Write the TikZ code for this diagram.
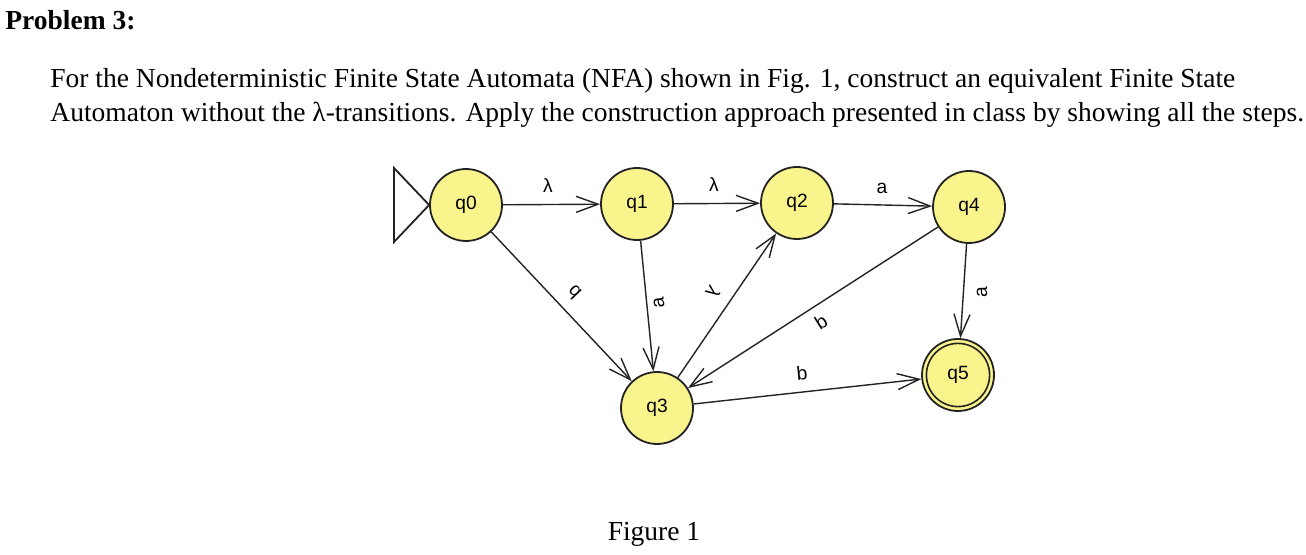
\documentclass[tikz,border=0pt]{standalone}
\usepackage{fontspec}
\setmainfont{Liberation Serif}
\newfontfamily\jf{Liberation Sans}
\usetikzlibrary{arrows.meta}
\definecolor{jyellow}{RGB}{250,244,140}
\definecolor{jline}{RGB}{35,35,35}
\begin{document}
\begin{tikzpicture}[x=0.5pt,y=-0.5pt,
  state/.style={circle,draw=jline,line width=0.9pt,fill=jyellow,minimum size=36pt,inner sep=0pt,font=\jf\fontsize{9.6}{10}\selectfont},
  trans/.style={draw=jline,line width=0.7pt,-{Straight Barb[length=11pt,width=8pt,line width=0.7pt]}},
  lab/.style={inner sep=0pt,font=\jf\fontsize{9.6}{10}\selectfont},
  body/.style={anchor=base west,inner sep=0pt,font=\fontsize{13.75}{16}\selectfont}
]
\useasboundingbox (0,0) rectangle (1306,555);
% texts
\node[body,font=\bfseries\fontsize{13.75}{16}\selectfont] (title) at (5,30) {Problem 3:};
\node[body] (l1) at (50,88) {For the Nondeterministic Finite State Automata (NFA) shown in Fig. 1, construct an equivalent Finite State};
\node[body] (l2) at (50,122) {Automaton without the λ-transitions. Apply the construction approach presented in class by showing all the steps.};
\node[anchor=base,inner sep=0pt,font=\fontsize{13.75}{16}\selectfont] (fig) at (654,540) {Figure 1};
% states
\node[state] (q0) at (466,205) {q0};
\node[state] (q1) at (637,204) {q1};
\node[state] (q2) at (797,203) {q2};
\node[state] (q4) at (969,207) {q4};
\node[state] (q3) at (657,408) {q3};
\node[state] (q5) at (958,375) {q5};
\draw[jline,line width=0.8pt] (q5.center) circle[radius=15.8pt];
% start triangle
\coordinate (s1) at (394,168);
\coordinate (s2) at (394,242);
\draw[jline,line width=0.9pt] (s1) -- (q0.west) -- (s2) -- cycle;
% transitions
\draw[trans] (q0) -- (q1);
\draw[trans] (q1) -- (q2);
\draw[trans] (q2) -- (q4);
\draw[trans] (q0) -- (q3);
\draw[trans] (q1) -- (q3);
\draw[trans] (q3) -- (q2);
\draw[trans] (q4) -- (q3);
\draw[trans] (q3) -- (q5);
\draw[trans] (q4) -- (q5);
% labels
\node[lab] (lq0q1) at (548,186) {λ};
\node[lab] (lq1q2) at (714,185) {λ};
\node[lab] (lq2q4) at (882,188) {a};
\node[lab,rotate=134] (lq0q3) at (574,292) {b};
\node[lab,rotate=96] (lq1q3) at (659,303) {a};
\node[lab,rotate=235] (lq3q2) at (713,292) {λ};
\node[lab,rotate=32] (lq4q3) at (821,322) {b};
\node[lab,rotate=6] (lq3q5) at (802,373) {b};
\node[lab,rotate=90] (lq4q5) at (982,292) {a};
\end{tikzpicture}
\end{document}
